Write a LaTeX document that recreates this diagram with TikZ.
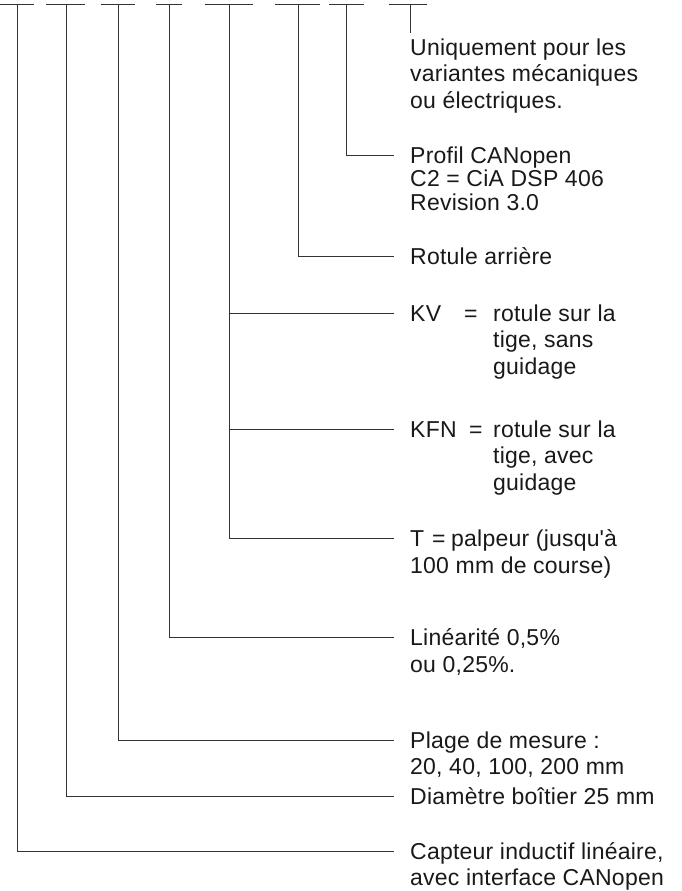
\documentclass[tikz,border=0pt]{standalone}
\usepackage{fontspec}
\setmainfont[LetterSpace=1]{Liberation Sans}
\usetikzlibrary{calc}

\newcommand\tightlead{\lineskiplimit=-20pt\relax}

\tikzset{
    lbl/.style={anchor=north west, align=left, inner xsep=16pt, inner ysep=0pt,
        text=black!90, font=\fontsize{23}{26.5}\selectfont},
    lead/.style={draw=black!80, line width=1pt},
}

\begin{document}
\begin{tikzpicture}[x=1pt, y=-1pt]
    \useasboundingbox (0,0) rectangle (682,891);
    \foreach \n/\x/\lw/\rw in {1/17/19/17, 2/66/20/19, 3/118/17/17, 4/169/13/13,
                                5/229/24/24, 6/298/23/22, 7/346/17/18, 8/410/21/17} {
        \coordinate (t\n) at (\x,5);
        \draw[lead] ([xshift=-\lw pt]t\n) -- ([xshift=\rw pt]t\n);
    }
    \node[lbl] (uniq) at (394,38.5) {Uniquement pour les\\variantes mécaniques\\ou électriques.};
    \node[lbl, font=\fontsize{23}{23.5}\selectfont\tightlead] (profil) at (394,146.5)
        {Profil CANopen\\C2 = CiA DSP 406\\Revision 3.0};
    \node[lbl] (rotule) at (394,247.5) {Rotule arrière};
    \node[lbl] (kv) at (394,304.5) {\makebox[54pt][l]{KV}\makebox[29pt][l]{=}rotule sur la\\
        \hspace*{83pt}tige, sans\\\hspace*{83pt}guidage};
    \node[lbl] (kfn) at (394,420.5) {\makebox[59pt][l]{KFN}\makebox[24pt][l]{=}rotule sur la\\
        \hspace*{83pt}tige, avec\\\hspace*{83pt}guidage};
    \node[lbl] (palp) at (394,529.5) {\makebox[22pt][l]{T}\makebox[19pt][l]{=}palpeur (jusqu\textquotesingle à\\100 mm de course)};
    \node[lbl] (lin) at (394,628.5) {Linéarité 0,5\%\\ou 0,25\%.};
    \node[lbl] (plage) at (394,731.5) {Plage de mesure :\\20, 40, 100, 200 mm};
    \node[lbl] (diam) at (394,787.5) {Diamètre boîtier 25 mm};
    \node[lbl, font=\fontsize{23}{25.5}\selectfont] (capt) at (394,842.5) {Capteur inductif linéaire,\\avec interface CANopen};
    % leads down from the ticks
    \draw[lead] (t8) -- ([yshift=5pt]t8 |- uniq.north);
    \draw[lead] (t7) |- ([yshift=-8.5pt]profil.north west);
    \draw[lead] (t6) |- ([yshift=-8.5pt]rotule.north west);
    \draw[lead] (t5) |- ([yshift=-8.5pt]palp.north west);
    \draw[lead] (t5 |- kv.north) ++(0,8.5) -- ([yshift=-8.5pt]kv.north west);
    \draw[lead] (t5 |- kfn.north) ++(0,8.5) -- ([yshift=-8.5pt]kfn.north west);
    \draw[lead] (t4) |- ([yshift=-8.5pt]lin.north west);
    \draw[lead] (t3) |- ([yshift=-8.5pt]plage.north west);
    \draw[lead] (t2) |- ([yshift=-8.5pt]diam.north west);
    \draw[lead] (t1) |- ([yshift=-8.5pt]capt.north west);
\end{tikzpicture}
\end{document}
